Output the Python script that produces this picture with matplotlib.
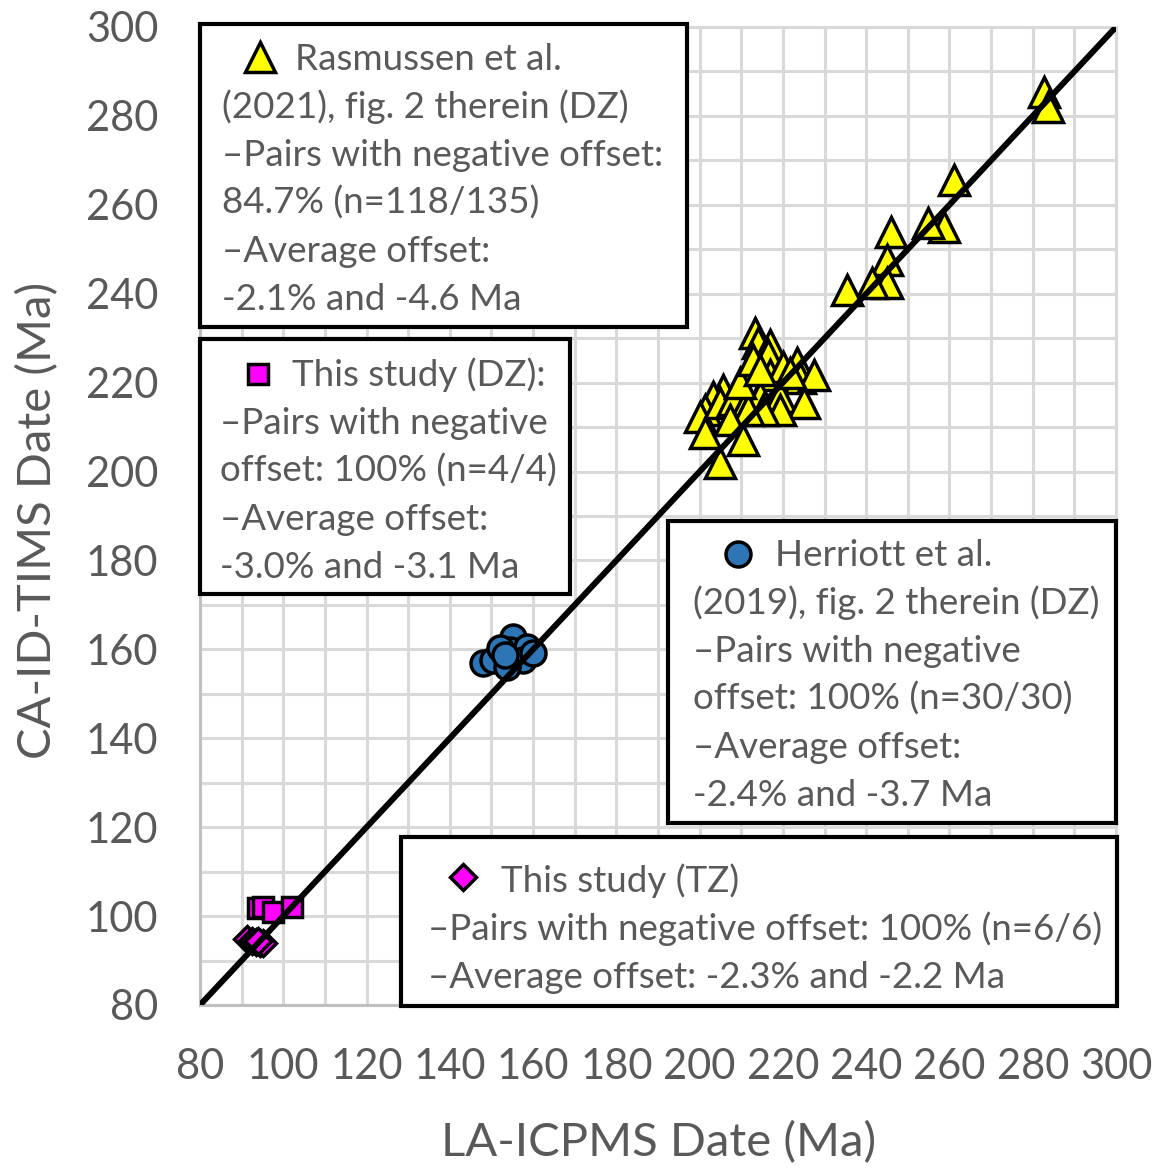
import matplotlib
matplotlib.use("Agg")
import matplotlib.pyplot as plt
from matplotlib.lines import Line2D
from matplotlib.patches import Rectangle

plt.rcParams["font.family"] = ["Lato", "DejaVu Sans"]

# ---- data (LA-ICPMS date, CA-ID-TIMS date), Ma ------------------------------
rasmussen_x = [282.6, 283.6, 261.0, 245.9, 258.6, 254.8, 245.1, 245.1, 241.5, 235.5,
               213.4, 214.1, 217.0, 216.5, 223.5, 224.2, 227.4, 217.0, 220.1, 205.7,
               203.3, 201.4, 200.2, 201.4, 205.0, 208.1, 211.5, 214.6, 219.4, 225.0,
               219.4, 215.3, 211.5, 207.4, 210.5, 205.0, 209.8, 212.9, 214.6, 221.8]
rasmussen_y = [285.4, 282.0, 265.6, 253.9, 255.0, 255.9, 247.6, 242.4, 242.4, 240.9,
               231.2, 228.9, 228.5, 226.2, 224.4, 221.1, 221.7, 221.7, 223.5, 218.4,
               216.8, 213.9, 212.3, 208.7, 215.4, 216.1, 216.1, 216.8, 216.8, 215.4,
               213.9, 213.9, 213.9, 211.6, 207.1, 201.9, 219.9, 225.1, 222.9, 222.2]

herriott_x = [148.0, 150.4, 155.2, 154.5, 158.6, 157.6, 153.8, 160.0, 152.1, 153.3]
herriott_y = [156.9, 157.6, 162.8, 159.9, 160.5, 157.6, 156.0, 159.2, 160.3, 158.7]

dz_x = [93.9, 95.1, 97.5, 102.1]
dz_y = [101.8, 102.0, 100.9, 102.0]

tz_x = [91.3, 92.5, 93.5, 94.5, 95.1, 94.0]
tz_y = [94.8, 94.5, 94.2, 94.0, 93.9, 94.5]

ticks = list(range(80, 301, 20))

legend_texts = [
    ["Rasmussen et al.", "(2021), fig. 2 therein (DZ)", "\u2013Pairs with negative offset:",
     "84.7% (n=118/135)", "\u2013Average offset:", "-2.1% and -4.6 Ma"],
    ["This study (DZ):", "\u2013Pairs with negative", "offset: 100% (n=4/4)",
     "\u2013Average offset:", "-3.0% and -3.1 Ma"],
    ["Herriott et al.", "(2019), fig. 2 therein (DZ)", "\u2013Pairs with negative",
     "offset: 100% (n=30/30)", "\u2013Average offset:", "-2.4% and -3.7 Ma"],
    ["This study (TZ)", "\u2013Pairs with negative offset: 100% (n=6/6)",
     "\u2013Average offset: -2.3% and -2.2 Ma"],
]

W, H = 1158, 1169
TXT = "#595959"

fig = plt.figure(figsize=(W / 100, H / 100), dpi=100)
ax = fig.add_axes([200 / W, 1 - 1005 / H, 916 / W, 978 / H])

ax.set_xlim(80, 300)
ax.set_ylim(80, 300)
ax.set_xticks(ticks)
ax.set_yticks(ticks)
ax.set_xticks(range(80, 301, 10), minor=True)
ax.set_yticks(range(80, 301, 10), minor=True)
ax.grid(True, which="both", color="#d9d9d9", lw=2.2, zorder=0)
ax.set_axisbelow(True)
ax.tick_params(which="both", length=0, labelsize=30, labelcolor=TXT)
ax.tick_params(axis="x", pad=31)
ax.tick_params(axis="y", pad=30)
for side in ("top", "right"):
    ax.spines[side].set_color("#d9d9d9")
    ax.spines[side].set_linewidth(2.2)
for side in ("bottom", "left"):
    ax.spines[side].set_color("#bfbfbf")
    ax.spines[side].set_linewidth(2.2)


def fx(px):
    return px / W


def fy(py):
    return 1 - py / H


# axis titles placed directly (centre positions in pixels)
fig.text(fx(659), fy(1143), "LA-ICPMS Date (Ma)", fontsize=34, color=TXT,
         ha="center", va="center")
fig.text(fx(38), fy(520), "CA-ID-TIMS Date (Ma)", fontsize=34, color=TXT,
         ha="center", va="center", rotation=90)

mk = dict(ls="none", mec="black", mew=2.5)
ax.plot(rasmussen_x, rasmussen_y, marker="^", ms=21, mfc="#ffff00", zorder=3, **mk)
ax.plot(herriott_x, herriott_y, marker="o", ms=18, mfc="#2e75b6", zorder=3, **mk)
ax.plot(dz_x, dz_y, marker="s", ms=14, mfc="#ff00ff", zorder=3, **mk)
ax.plot(tz_x, tz_y, marker="D", ms=13, mfc="#ff00ff", zorder=3, **mk)
ax.plot([80, 300], [80, 300], color="black", lw=4.3, zorder=4, solid_capstyle="round")

# legend boxes: (x0, y0, x1, y1) in pixels, marker pos, marker, size, colour,
# first-line text x, other-line text x, first baseline
boxes = [
    ((200, 24, 687, 327), (260, 57), "^", 21, "#ffff00", 295, 222, 70),
    ((200, 339, 570, 594), (258, 374), "s", 14, "#ff00ff", 292, 220, 386),
    ((668, 521, 1116, 823), (738, 554), "o", 18, "#2e75b6", 775, 693, 566),
    ((401, 837, 1117, 1006), (463, 877), "D", 13, "#ff00ff", 501, 428, 892),
]

for box, lines in zip(boxes, legend_texts):
    (x0, y0, x1, y1), (mx, my), m, ms, mc, tx0, tx, base = box
    fig.add_artist(Rectangle((fx(x0), fy(y1)), fx(x1 - x0), (y1 - y0) / H,
                             transform=fig.transFigure, facecolor="white",
                             edgecolor="black", lw=3, zorder=10))
    fig.add_artist(Line2D([fx(mx)], [fy(my)], marker=m, ms=ms, mfc=mc, mec="black",
                          mew=2.5, ls="none", transform=fig.transFigure, zorder=11))
    for i, line in enumerate(lines):
        x = tx0 if i == 0 else tx
        fig.text(fx(x), fy(base + 48 * i), line, fontsize=26.5, color=TXT,
                 ha="left", va="baseline", zorder=11)

fig.savefig("out.png", dpi=100)
